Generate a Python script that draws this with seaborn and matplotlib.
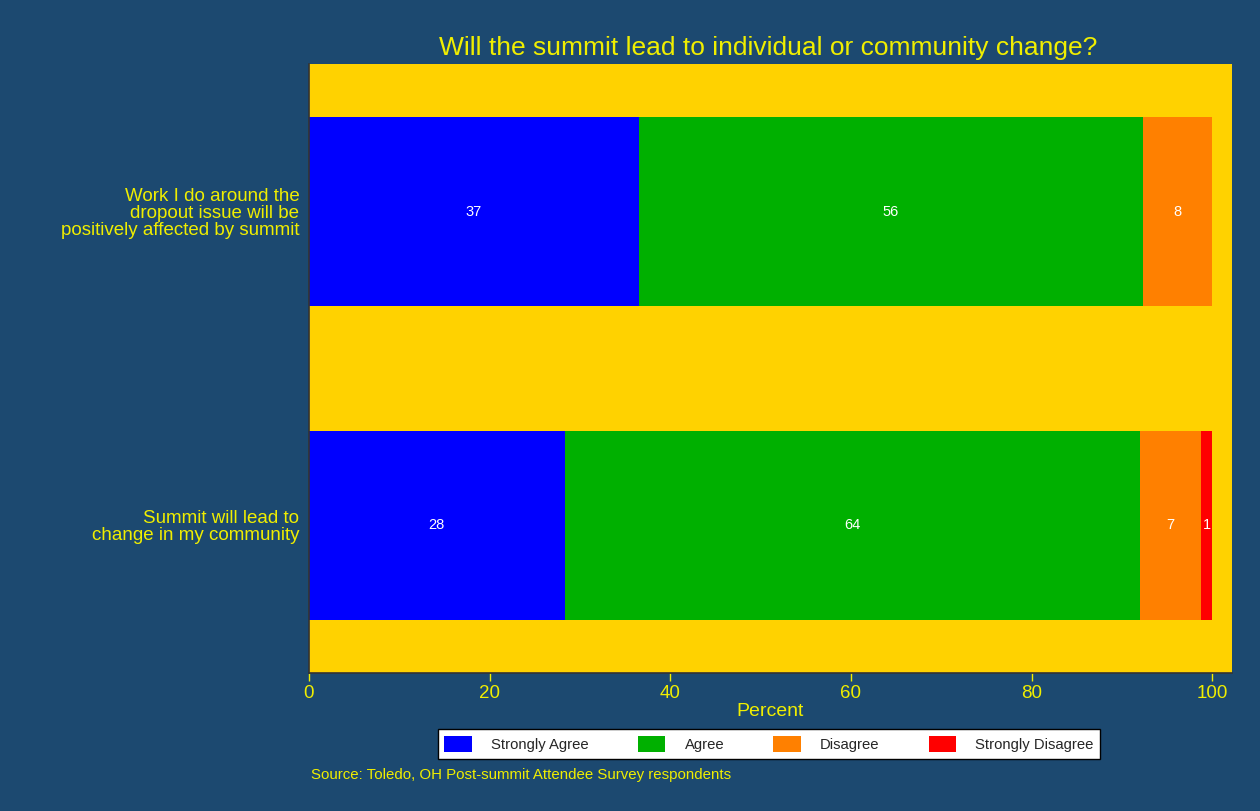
import pandas as pd
import numpy as np
import seaborn as sns
from matplotlib import pyplot as plt
from matplotlib.patches import Patch

sns.set_theme(style="white")
plt.rcParams['font.family'] = ['Liberation Sans', 'DejaVu Sans']

# data (percent of respondents)
questions = ['Work I do around the\ndropout issue will be\npositively affected by summit',
             'Summit will lead to\nchange in my community']
responses = ['Strongly Agree', 'Agree', 'Disagree', 'Strongly Disagree']
pct_q1 = [36.5, 55.8, 7.7, 0.0]
pct_q2 = [28.3, 63.7, 6.8, 1.2]
labels_q1 = ['37', '56', '8', '']
labels_q2 = ['28', '64', '7', '1']

colors = ['#0000ff', '#00b000', '#ff8000', '#ff0000']
bg = '#1c4970'
gold = '#ffd200'
txt = '#f0ee00'

rows = []
for q, vals, labs in [(questions[0], pct_q1, labels_q1), (questions[1], pct_q2, labels_q2)]:
    cum = np.cumsum(vals)
    for r, v, c, l in zip(responses, vals, cum, labs):
        rows.append({'question': q, 'response': r, 'pct': v, 'cum': c, 'label': l})
df = pd.DataFrame(rows)

fig = plt.figure(figsize=(12.6, 8.11), dpi=100, facecolor=bg)
ax = fig.add_axes([309 / 1260, 1 - 673 / 811, 923 / 1260, 609 / 811])
ax.set_facecolor(gold)

# stacked bars: draw cumulative totals from the last response back to the first
for r, col in reversed(list(zip(responses, colors))):
    sub = df[df['response'] == r]
    sns.barplot(data=sub, x='cum', y='question', order=questions, orient='h',
                color=col, saturation=1, width=0.6, ax=ax, linewidth=0)

for i, q in enumerate(questions):
    sub = df[df['question'] == q]
    for _, row in sub.iterrows():
        if row['label']:
            ax.text(row['cum'] - row['pct'] / 2, i, row['label'], color='white',
                    ha='center', va='center', fontsize=10.5)

ax.set_xlim(0, 102.2)
ax.set_ylim(1.47, -0.47)
ax.set_xticks([0, 20, 40, 60, 80, 100])
ax.tick_params(axis='x', colors=txt, labelsize=13.5, length=6, width=1, direction='out',
               bottom=True, pad=3)
ax.tick_params(axis='x', labelcolor=txt)
ax.tick_params(axis='y', length=0, labelsize=13.5, labelcolor=txt, pad=7)
for lab in ax.get_yticklabels():
    lab.set_linespacing(1.0)
ax.set_xlabel('Percent', color=txt, fontsize=14, labelpad=0)
ax.set_ylabel('')
for s in ['top', 'right']:
    ax.spines[s].set_visible(False)
for s in ['left', 'bottom']:
    ax.spines[s].set_color('#333333')
    ax.spines[s].set_linewidth(1.2)

fig.text(768 / 1260, 1 - 48 / 811, 'Will the summit lead to individual or community change?',
         color=txt, fontsize=19, ha='center', va='center')

handles = [Patch(facecolor=c, edgecolor='none', label=r) for r, c in zip(responses, colors)]
leg = fig.legend(handles=handles, loc='center', bbox_to_anchor=(769 / 1260, 1 - 744 / 811),
                 ncol=4, frameon=True, fancybox=False, edgecolor='black', facecolor='white',
                 fontsize=10.7, handlelength=1.85, handleheight=1.25, columnspacing=3.3,
                 handletextpad=1.3, borderpad=0.45, borderaxespad=0, framealpha=1)
leg.get_frame().set_linewidth(1)

fig.text(311 / 1260, 1 - 775 / 811, 'Source: Toledo, OH Post-summit Attendee Survey respondents',
         color=txt, fontsize=10.8, ha='left', va='center')

plt.savefig('out.png', dpi=100, facecolor=bg)
